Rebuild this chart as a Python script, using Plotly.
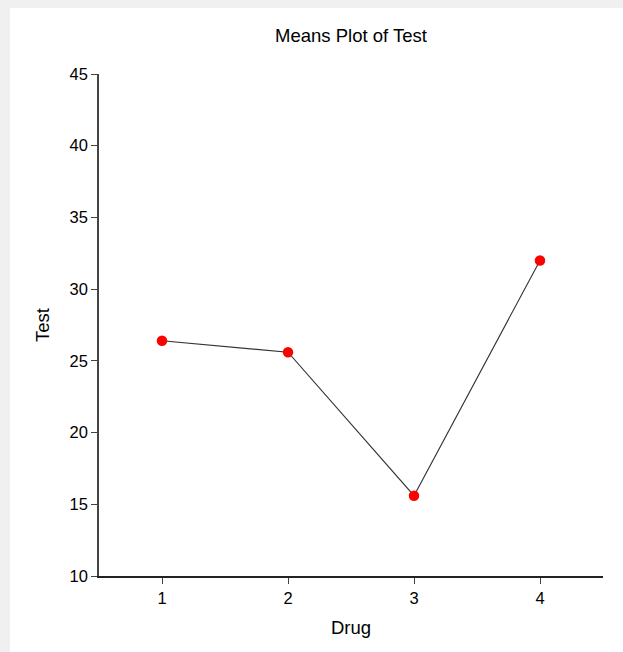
import plotly.graph_objects as go

drugs = [1, 2, 3, 4]
means = [26.4, 25.6, 15.6, 32.0]
y_ticks = [10, 15, 20, 25, 30, 35, 40, 45]
x_ticks = [1, 2, 3, 4]

W, H = 623, 652
L, R, T, B = 99, 20, 74, 76
pw = W - L - R
ph = H - T - B

font = "Liberation Sans, Arial, sans-serif"

fig = go.Figure()
fig.add_trace(go.Scatter(
    x=drugs, y=means, mode="lines+markers",
    line=dict(color="#333333", width=1.1),
    marker=dict(color="#ff0000", size=10.5, line=dict(width=0)),
    showlegend=False, hoverinfo="x+y",
))

fig.add_shape(type="rect", xref="paper", yref="paper", layer="below",
              x0=(10 - L) / pw, x1=(W - L) / pw + 0.05,
              y0=(H - B - H) / ph - 0.05, y1=(H - B - 8) / ph,
              fillcolor="white", line=dict(width=0))

fig.update_layout(
    width=W, height=H,
    margin=dict(l=L, r=R, t=T, b=B, autoexpand=False),
    paper_bgcolor="#f0f0f0", plot_bgcolor="white",
    font=dict(family=font, color="#000000", size=16.5),
    title=dict(text="Means Plot of Test", x=(L + pw / 2) / W, xanchor="center",
               y=1 - 36 / H, yanchor="middle", yref="container",
               font=dict(size=18.5, family=font, color="#000000")),
    xaxis=dict(range=[0.5, 4.5], tickvals=x_ticks, ticktext=[str(v) for v in x_ticks],
               showline=True, linecolor="#222222", linewidth=1.5,
               ticks="outside", ticklen=6, tickcolor="#444444", tickwidth=1,
               showgrid=False, zeroline=False, tickfont=dict(size=16.5)),
    yaxis=dict(range=[10, 45], tickvals=y_ticks, ticktext=[str(v) for v in y_ticks],
               showline=True, linecolor="#444444", linewidth=1.5,
               ticks="outside", ticklen=6, tickcolor="#444444", tickwidth=1,
               showgrid=False, zeroline=False, tickfont=dict(size=16.5)),
    annotations=[
        dict(text="Drug", xref="paper", yref="paper", x=0.5, y=(H - B - 627) / ph,
             xanchor="center", yanchor="middle", showarrow=False,
             font=dict(size=18.5, family=font, color="#000000")),
        dict(text="Test", xref="paper", yref="paper", x=(42 - L) / pw, y=0.5,
             xanchor="center", yanchor="middle", showarrow=False, textangle=-90,
             font=dict(size=18.5, family=font, color="#000000")),
    ],
)

fig.write_html(
    "out.html",
    config={"displayModeBar": False},
    post_script="document.body.style.margin='0';document.body.style.padding='0';"
                "document.body.style.overflow='hidden';",
)
